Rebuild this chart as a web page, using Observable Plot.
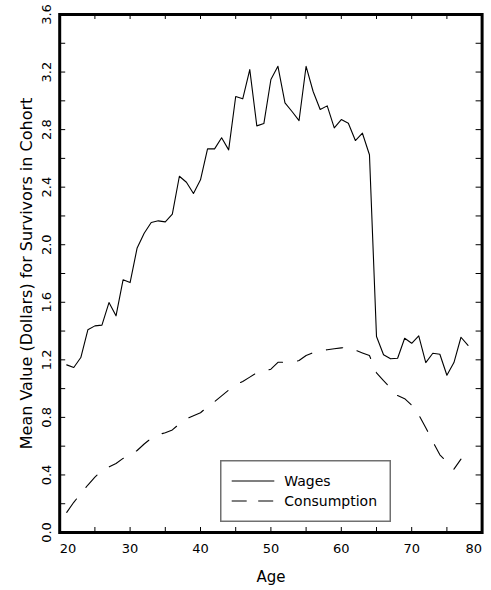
<!DOCTYPE html>
<html><head><meta charset="utf-8">
<script src="https://cdn.jsdelivr.net/npm/d3@7"></script>
<script src="https://cdn.jsdelivr.net/npm/@observablehq/plot@0.6"></script>
<style>
body{margin:0;background:#fff;}
#wrap{position:relative;width:491px;height:590px;font-family:"DejaVu Sans",sans-serif;}
#legend{position:absolute;left:220px;top:460px;}
</style></head><body><div id="wrap"></div>
<script>
// ---- data ----
const wageAges = [21,22,23,24,25,26,27,28,29,30,31,32,33,34,35,36,37,38,39,40,41,42,43,44,45,46,47,48,49,50,51,52,53,54,55,56,57,58,59,60,61,62,63,64,65,66,67,68,69,70,71,72,73,74,75,76,77,78];
const wages = [1.165,1.147,1.216,1.409,1.436,1.441,1.598,1.506,1.756,1.737,
               1.978,2.08,2.154,2.166,2.159,2.212,2.476,2.434,2.356,2.451,
               2.666,2.666,2.743,2.659,3.03,3.014,3.217,2.826,2.842,3.148,
               3.24,2.986,2.926,2.863,3.24,3.065,2.94,2.965,2.812,2.87,
               2.844,2.724,2.775,2.625,1.362,1.235,1.207,1.211,1.35,1.315,
               1.367,1.181,1.246,1.239,1.093,1.181,1.357,1.30];
const consAges = [21,22,23,24,25,26,27,28,29,30,31,32,33,34,35,36,37,38,39,40,41,42,43,44,45,46,47,48,49,50,51,52,53,54,55,56,57,58,59,60,61,62,63,64,65,66,67,68,69,70,71,72,73,74,75,76,77];
const consumption = [0.14,0.21,0.27,0.33,0.385,0.43,0.455,0.48,0.515,0.535,
                     0.57,0.615,0.655,0.68,0.693,0.713,0.755,0.79,0.812,0.832,
                     0.875,0.91,0.95,0.99,1.025,1.05,1.08,1.11,1.12,1.135,
                     1.183,1.183,1.183,1.195,1.23,1.25,1.262,1.27,1.277,1.283,
                     1.288,1.267,1.248,1.23,1.11,1.055,1.005,0.952,0.93,0.885,
                     0.818,0.728,0.632,0.54,0.49,0.44,0.51];
const xTicks = [20,25,30,35,40,45,50,55,60,65,70,75,80];
const xLabels = [20,30,40,50,60,70,80];
const yTicks = [0,0.2,0.4,0.6,0.8,1.0,1.2,1.4,1.6,1.8,2.0,2.2,2.4,2.6,2.8,3.0,3.2,3.4,3.6];
const yLabels = [0,0.4,0.8,1.2,1.6,2.0,2.4,2.8,3.2,3.6];
const xTitle = "Age";
const yTitle = "Mean Value (Dollars) for Survivors in Cohort";
const seriesNames = ["Wages","Consumption"];

const wageData = wageAges.map((a,i)=>({age:a, value:wages[i]}));
const consData = consAges.map((a,i)=>({age:a, value:consumption[i]}));

// ---- layout ----
const W = 491, H = 590;
const mL = 59.2, mR = 9.4, mT = 14, mB = 58;
const plotW = W - mL - mR, plotH = H - mT - mB;
const FONT = "DejaVu Sans";
const txt = {fill: "black", lineAnchor: "middle"};

const chart = Plot.plot({
  width: W, height: H,
  marginLeft: mL, marginRight: mR, marginTop: mT, marginBottom: mB,
  style: {fontFamily: FONT, background: "white", color: "black", overflow: "visible"},
  x: {domain: [20, 80], axis: null},
  y: {domain: [0, 3.6], axis: null},
  marks: [
    Plot.line(wageData, {x: "age", y: "value", stroke: "black", strokeWidth: 1.1}),
    Plot.line(consData, {x: "age", y: "value", stroke: "black", strokeWidth: 1.1, strokeDasharray: "16.5,15"}),
    // inward ticks on all four sides
    Plot.ruleX(xTicks, {x: d => d, insetTop: plotH - 5, stroke: "black", strokeWidth: 1}),
    Plot.ruleX(xTicks, {x: d => d, insetBottom: plotH - 5, stroke: "black", strokeWidth: 1}),
    Plot.ruleY(yTicks, {y: d => d, insetRight: plotW - 6, stroke: "black", strokeWidth: 1}),
    Plot.ruleY(yTicks, {y: d => d, insetLeft: plotW - 6, stroke: "black", strokeWidth: 1}),
    Plot.frame({stroke: "black", strokeWidth: 3}),
    // x tick labels
    Plot.text(xLabels.slice(1, -1), {...txt, x: d => d, frameAnchor: "bottom", dy: 16, text: d => String(d), textAnchor: "middle", fontSize: 13}),
    Plot.text(xLabels.slice(0, 1), {...txt, x: d => d, frameAnchor: "bottom", dy: 16, text: d => String(d), textAnchor: "start", fontSize: 13}),
    Plot.text(xLabels.slice(-1), {...txt, x: d => d, frameAnchor: "bottom", dy: 16, text: d => String(d), textAnchor: "end", fontSize: 13}),
    // y tick labels (rotated)
    Plot.text(yLabels, {...txt, y: d => d, frameAnchor: "left", dx: -12.5, rotate: -90, textAnchor: "middle", text: d => d.toFixed(1), fontSize: 13}),
    // axis titles
    Plot.text([xTitle], {...txt, frameAnchor: "bottom", dy: 44.7, textAnchor: "middle", text: d => d, fontSize: 15}),
    Plot.text([yTitle], {...txt, frameAnchor: "left", dx: -32.5, rotate: -90, textAnchor: "middle", text: d => d, fontSize: 16})
  ]
});
const wrap = document.getElementById("wrap");
wrap.appendChild(chart);

// ---- legend (inside plot area) ----
const lg = d3.select(wrap).append("svg").attr("id", "legend")
  .attr("width", 172).attr("height", 64);
lg.append("rect").attr("x", 0.75).attr("y", 0.75).attr("width", 169.5).attr("height", 60.5)
  .attr("fill", "white").attr("stroke", "#707070").attr("stroke-width", 1.5);
const styles = [{dash: null}, {dash: "15,11.5"}];
seriesNames.forEach((name, i) => {
  const cy = 21 + i * 20;
  lg.append("line").attr("x1", 11.7).attr("x2", 54.3).attr("y1", cy).attr("y2", cy)
    .attr("stroke", "black").attr("stroke-width", 1.1)
    .attr("stroke-dasharray", styles[i].dash);
  lg.append("text").attr("x", 64.3).attr("y", cy + 4.6).text(name)
    .attr("font-family", FONT).attr("font-size", 14).attr("fill", "black");
});
</script>
</body></html>
